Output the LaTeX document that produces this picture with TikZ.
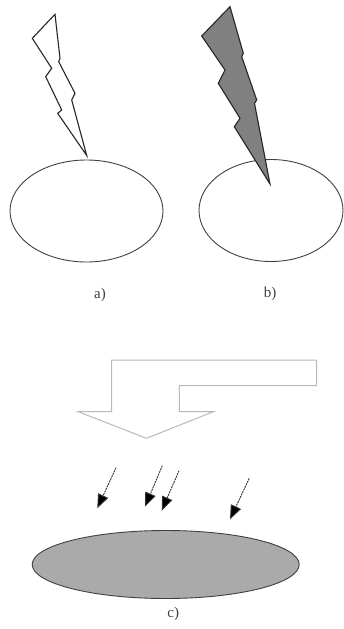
\documentclass[tikz,border=0pt]{standalone}
\usepackage{fontspec}
\setmainfont{Liberation Serif}
\usetikzlibrary{arrows.meta,shapes.geometric}
\definecolor{boltgray}{RGB}{128,128,128}
\definecolor{plategray}{RGB}{170,170,170}
\definecolor{outlinegray}{RGB}{185,185,185}
\begin{document}
\begin{tikzpicture}[x=1pt,y=-1pt,
  outline/.style={draw=black!75,line width=0.9pt},
  bolt/.style={draw=black!85,line width=1.1pt,line join=miter},
  lbl/.style={font=\fontsize{15}{17}\selectfont,text=black!75},
  smallarrow/.style={draw=black!80,line width=0.9pt,dash pattern=on 2pt off 0.8pt,
     -{Triangle[length=14pt,width=11pt,fill=black]}}]
\useasboundingbox (0,0) rectangle (343,629);
% ellipses a and b
\node[outline,ellipse,minimum width=153pt,minimum height=102pt,inner sep=0pt] (ea) at (86.5,211) {};
\node[outline,ellipse,minimum width=144pt,minimum height=102pt,inner sep=0pt] (eb) at (271,210.5) {};
% lightning a (outline)
\draw[bolt,fill=white] (55,14.3) -- (60,58.3) -- (58.7,61.7) -- (75,93.3) -- (71.7,100) -- (86.7,155.5)
  -- (57.7,113.3) -- (61.7,110) -- (45.7,76.7) -- (51.7,68.3) -- (32.3,38.3) -- cycle;
% lightning b (filled)
\draw[bolt,fill=boltgray] (230,6.7) -- (243.3,53.3) -- (241.7,56.7) -- (256.7,100) -- (254.5,103.3) -- (270,184)
  -- (234.3,126.7) -- (240,118.3) -- (218.3,83.3) -- (225,70) -- (201.7,36) -- cycle;
\node[lbl] (la) at (100,295) {a)};
\node[lbl] (lb) at (270,294) {b)};
% big bent arrow
\draw[draw=outlinegray,line width=1pt] (111.7,360) -- (316.7,360) -- (316.7,385.7) -- (179.3,385.7)
  -- (179.3,411.7) -- (213.3,411.7) -- (146.5,438.3) -- (78.3,411.7) -- (111.7,411.7) -- cycle;
% small arrows
\coordinate (s1) at (116,467.7); \coordinate (t1) at (97.3,508.3);
\coordinate (s2) at (162.3,465.7); \coordinate (t2) at (145,506.7);
\coordinate (s3) at (179,470.7); \coordinate (t3) at (161.7,510.7);
\coordinate (s4) at (249.3,478.3); \coordinate (t4) at (230,519.3);
\draw[smallarrow] (s1) -- (t1);
\draw[smallarrow] (s2) -- (t2);
\draw[smallarrow] (s3) -- (t3);
\draw[smallarrow] (s4) -- (t4);
% plate
\node[outline,fill=plategray,ellipse,minimum width=267pt,minimum height=68pt,inner sep=0pt] (ec) at (165.7,564.5) {};
\node[lbl] (lc) at (173.3,613.5) {c)};
\end{tikzpicture}
\end{document}
